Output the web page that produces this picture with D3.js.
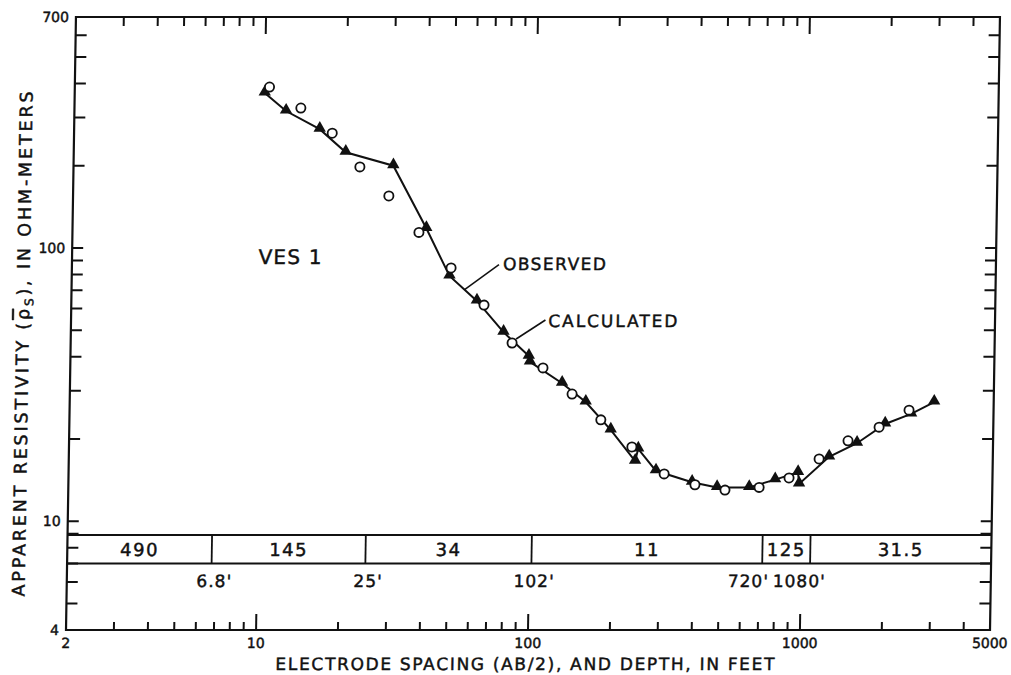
<!DOCTYPE html>
<html>
<head>
<meta charset="utf-8">
<script src="https://cdn.jsdelivr.net/npm/d3@7"></script>
<style>
body { margin: 0; background: #fff; }
text { font-family: "DejaVu Sans", sans-serif; fill: #111; stroke: #111; stroke-width: 0.45px; }
</style>
</head>
<body>
<script>
// observed sounding (triangles, joined by the line)
var obsX = [10, 12, 16, 20, 30, 40, 49, 62, 78, 97, 98, 129, 158, 196, 242, 248, 289, 393, 486, 638, 794, 963, 973, 1250, 1580, 2000, 2490, 3020];
var obsY = [369, 317, 272, 224, 200, 118, 79, 64, 49.2, 40.2, 38.3, 32.0, 27.3, 21.6, 16.6, 18.4, 15.3, 13.9, 13.3, 13.3, 14.2, 15.1, 13.7, 17.2, 19.3, 22.7, 24.7, 27.3];

// calculated curve (open circles)
var calX = [10.4, 13.6, 17.8, 22.6, 29.0, 37.6, 49.6, 65.9, 84, 109.5, 140.6, 180, 235, 310, 403, 520, 694, 893, 1149, 1464, 1901, 2444];
var calY = [388, 325, 263, 198, 155, 114, 84.5, 61.8, 44.9, 36.4, 29.2, 23.5, 18.7, 14.9, 13.6, 13.0, 13.3, 14.4, 16.9, 19.7, 22.1, 25.5];

// layered model strip
var layerBounds = [6.8, 25, 102, 720, 1080];
var layerRes = ["490", "145", "34", "11", "125", "31.5"];
var depthLabels = ["6.8'", "25'", "102'", "720'", "1080'"];

var xTickLabels = [2, 10, 100, 1000, 5000];
var yTickLabels = [4, 10, 100, 700];

var W = 1011, H = 675;
var mLeft = 66, mRight = 990, mTop = 17, mBottom = 630;

var x = d3.scaleLog().domain([2, 5000]).range([mLeft, mRight]);
var y = d3.scaleLog().domain([4, 700]).range([mBottom, mTop]);

var svg = d3.select("body").append("svg")
    .attr("width", W)
    .attr("height", H);

// the scan is sheared a little: top edge sits ~10px right of the bottom edge
var g = svg.append("g")
    .attr("transform", "translate(0," + mBottom + ") skewX(-0.93) translate(0," + (-mBottom) + ")");

var ink = "#111";

//frame
g.append("rect")
    .attr("x", mLeft).attr("y", mTop)
    .attr("width", mRight - mLeft).attr("height", mBottom - mTop)
    .attr("fill", "none").attr("stroke", ink).attr("stroke-width", 2.2);

// x ticks, bottom and top, pointing inward
var xt = x.ticks().filter(function(d) { return d > 2 && d < 5000; });
function isMajor(d) { return Math.abs(Math.log10(d) - Math.round(Math.log10(d))) < 1e-6; }
g.selectAll(".xtb").data(xt).enter().append("line")
    .attr("x1", function(d) { return x(d); }).attr("x2", function(d) { return x(d); })
    .attr("y1", mBottom).attr("y2", function(d) { return mBottom - (isMajor(d) ? 16 : 8); })
    .attr("stroke", ink).attr("stroke-width", 2);
g.selectAll(".xtt").data(xt).enter().append("line")
    .attr("x1", function(d) { return x(d); }).attr("x2", function(d) { return x(d); })
    .attr("y1", mTop).attr("y2", function(d) { return mTop + (isMajor(d) ? 17 : 9); })
    .attr("stroke", ink).attr("stroke-width", 2);

// y ticks, left and right
var yt = y.ticks().filter(function(d) { return d > 4 && d < 700; });
g.selectAll(".ytl").data(yt).enter().append("line")
    .attr("x1", mLeft).attr("x2", mLeft + 11)
    .attr("y1", function(d) { return y(d); }).attr("y2", function(d) { return y(d); })
    .attr("stroke", ink).attr("stroke-width", 2);
g.selectAll(".ytr").data(yt).enter().append("line")
    .attr("x1", mRight).attr("x2", mRight - 11)
    .attr("y1", function(d) { return y(d); }).attr("y2", function(d) { return y(d); })
    .attr("stroke", ink).attr("stroke-width", 2);

// tick labels
g.selectAll(".xl").data(xTickLabels).enter().append("text")
    .attr("x", function(d) { return x(d); })
    .attr("y", 648)
    .attr("text-anchor", "middle")
    .attr("font-size", 14)
    .text(function(d) { return d; });
g.selectAll(".yl").data(yTickLabels).enter().append("text")
    .attr("x", mLeft - 7)
    .attr("y", function(d) { return y(d) + 5; })
    .attr("text-anchor", "end")
    .attr("font-size", 14)
    .text(function(d) { return d; });

// model strip
var bandTop = y(8.9), bandBot = y(7.0);
g.append("line").attr("x1", mLeft).attr("x2", mRight).attr("y1", bandTop).attr("y2", bandTop)
    .attr("stroke", ink).attr("stroke-width", 2);
g.append("line").attr("x1", mLeft).attr("x2", mRight).attr("y1", bandBot).attr("y2", bandBot)
    .attr("stroke", ink).attr("stroke-width", 2);
g.selectAll(".div").data(layerBounds).enter().append("line")
    .attr("x1", function(d) { return x(d); }).attr("x2", function(d) { return x(d); })
    .attr("y1", bandTop).attr("y2", bandBot)
    .attr("stroke", ink).attr("stroke-width", 1.8);

var edges = [2].concat(layerBounds).concat([5000]);
g.selectAll(".res").data(layerRes).enter().append("text")
    .attr("x", function(d, i) { return x(Math.sqrt(edges[i] * edges[i + 1])); })
    .attr("y", (bandTop + bandBot) / 2 + 7)
    .attr("text-anchor", "middle")
    .attr("font-size", 18)
    .attr("letter-spacing", 1.5)
    .text(function(d) { return d; });

g.selectAll(".dep").data(depthLabels).enter().append("text")
    .attr("x", function(d, i) {
        if (i == 3) return x(layerBounds[i]) + 7;
        if (i == 4) return x(layerBounds[i]) - 37;
        return x(layerBounds[i]) + 3;
    })
    .attr("y", bandBot + 23)
    .attr("text-anchor", function(d, i) { return i == 3 ? "end" : (i == 4 ? "start" : "middle"); })
    .attr("font-size", 17)
    .attr("letter-spacing", 1)
    .text(function(d) { return d; });

// observed line + triangles
var obs = obsX.map(function(d, i) { return [d, obsY[i]]; });
var cal = calX.map(function(d, i) { return [d, calY[i]]; });

g.append("path")
    .datum(obs)
    .attr("d", d3.line().x(function(d) { return x(d[0]); }).y(function(d) { return y(d[1]); }))
    .attr("fill", "none").attr("stroke", ink).attr("stroke-width", 2);

var tri = d3.symbol().type(d3.symbolTriangle).size(66);
g.selectAll(".obs").data(obs).enter().append("path")
    .attr("d", tri)
    .attr("transform", function(d) { return "translate(" + x(d[0]) + "," + (y(d[1]) - 1) + ")"; })
    .attr("fill", ink);

g.selectAll(".cal").data(cal).enter().append("circle")
    .attr("cx", function(d) { return x(d[0]); })
    .attr("cy", function(d) { return y(d[1]); })
    .attr("r", 4.6)
    .attr("fill", "#fff").attr("stroke", ink).attr("stroke-width", 1.8);

// annotations
var a = obs[6], b = obs[7], t = 0.55;
var ox = x(a[0]) + (x(b[0]) - x(a[0])) * t, oy = y(a[1]) + (y(b[1]) - y(a[1])) * t;
g.append("line").attr("x1", ox).attr("y1", oy).attr("x2", ox + 34).attr("y2", oy - 25)
    .attr("stroke", ink).attr("stroke-width", 1.6);
g.append("text").attr("x", ox + 38).attr("y", oy - 20)
    .attr("font-size", 17).attr("textLength", 103).attr("lengthAdjust", "spacing")
    .text("OBSERVED");

var c = cal[8];
var cx = x(c[0]) + 4, cy = y(c[1]) - 4;
g.append("line").attr("x1", cx).attr("y1", cy).attr("x2", cx + 29).attr("y2", cy - 19)
    .attr("stroke", ink).attr("stroke-width", 1.6);
g.append("text").attr("x", cx + 32).attr("y", cy - 12)
    .attr("font-size", 17).attr("textLength", 129).attr("lengthAdjust", "spacing")
    .text("CALCULATED");

g.append("text").attr("x", x(9.7)).attr("y", y(87))
    .attr("font-size", 20).attr("textLength", 63).attr("lengthAdjust", "spacing")
    .text("VES 1");

// axis titles
g.append("text").attr("x", 276).attr("y", 670)
    .attr("font-size", 17).attr("textLength", 499).attr("lengthAdjust", "spacing")
    .text("ELECTRODE SPACING (AB/2), AND DEPTH, IN FEET");

var ytitle = g.append("text")
    .attr("transform", "translate(24,344) rotate(-90)")
    .attr("text-anchor", "middle")
    .attr("font-size", 17.5).attr("textLength", 505).attr("lengthAdjust", "spacing");
ytitle.append("tspan").text("APPARENT RESISTIVITY (");
ytitle.append("tspan").attr("text-decoration", "overline").text("\u03C1");
ytitle.append("tspan").attr("font-size", 12).attr("dy", 4).text("S");
ytitle.append("tspan").attr("dy", -4).text("), IN OHM-METERS");
</script>
</body>
</html>
